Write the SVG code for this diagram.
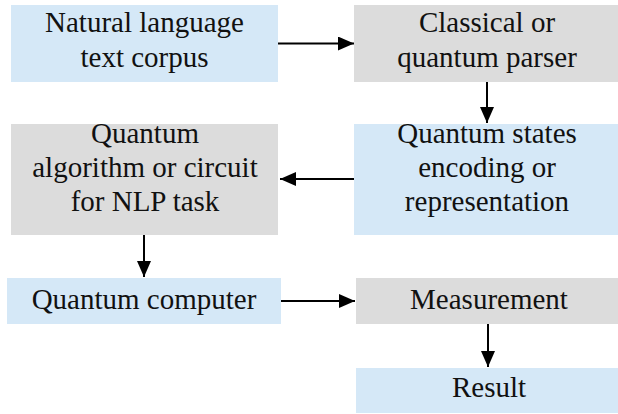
<svg xmlns="http://www.w3.org/2000/svg" width="618" height="414" viewBox="0 0 618 414">
<style>
.blue{fill:#D5E8F7}
.gray{fill:#DCDCDC}
text{font-size:29px;fill:#111;text-anchor:middle}
.conn line{stroke:#000;stroke-width:2;marker-end:url(#ah)}
</style>
<defs>
<marker id="ah" markerUnits="userSpaceOnUse" markerWidth="18" markerHeight="16" refX="16" refY="7" orient="auto">
<polygon points="0,0 16,7 0,14" fill="#000"/>
</marker>
</defs>
<rect width="618" height="414" fill="#fff"/>
<g font-family="Liberation Serif, serif">
<g id="n1"><rect class="blue" x="11" y="5" width="267" height="77"/>
<text x="144.5" y="32">Natural language</text><text x="144.5" y="67">text corpus</text></g>
<g id="n2"><rect class="gray" x="354" y="5" width="264" height="77"/>
<text x="487" y="32">Classical or</text><text x="487" y="67">quantum parser</text></g>
<g id="n3"><rect class="blue" x="354" y="124" width="264" height="111"/>
<text x="487" y="143">Quantum states</text><text x="487" y="177">encoding or</text><text x="487" y="211">representation</text></g>
<g id="n4"><rect class="gray" x="11" y="124" width="267" height="111"/>
<text x="145" y="143">Quantum</text><text x="145" y="177">algorithm or circuit</text><text x="145" y="211">for NLP task</text></g>
<g id="n5"><rect class="blue" x="7" y="278" width="274" height="46"/>
<text x="144" y="309">Quantum computer</text></g>
<g id="n6"><rect class="gray" x="356" y="278" width="262" height="46"/>
<text x="489" y="309">Measurement</text></g>
<g id="n7"><rect class="blue" x="356" y="368" width="262" height="45"/>
<text x="489" y="397">Result</text></g>
</g>
<g class="conn">
<line x1="278" y1="43.5" x2="354" y2="43.5"/>
<line x1="487" y1="82" x2="487" y2="123"/>
<line x1="354" y1="179" x2="280" y2="179"/>
<line x1="144" y1="235" x2="144" y2="277"/>
<line x1="281" y1="301" x2="355" y2="301"/>
<line x1="488" y1="324" x2="488" y2="367"/>
</g>
</svg>
